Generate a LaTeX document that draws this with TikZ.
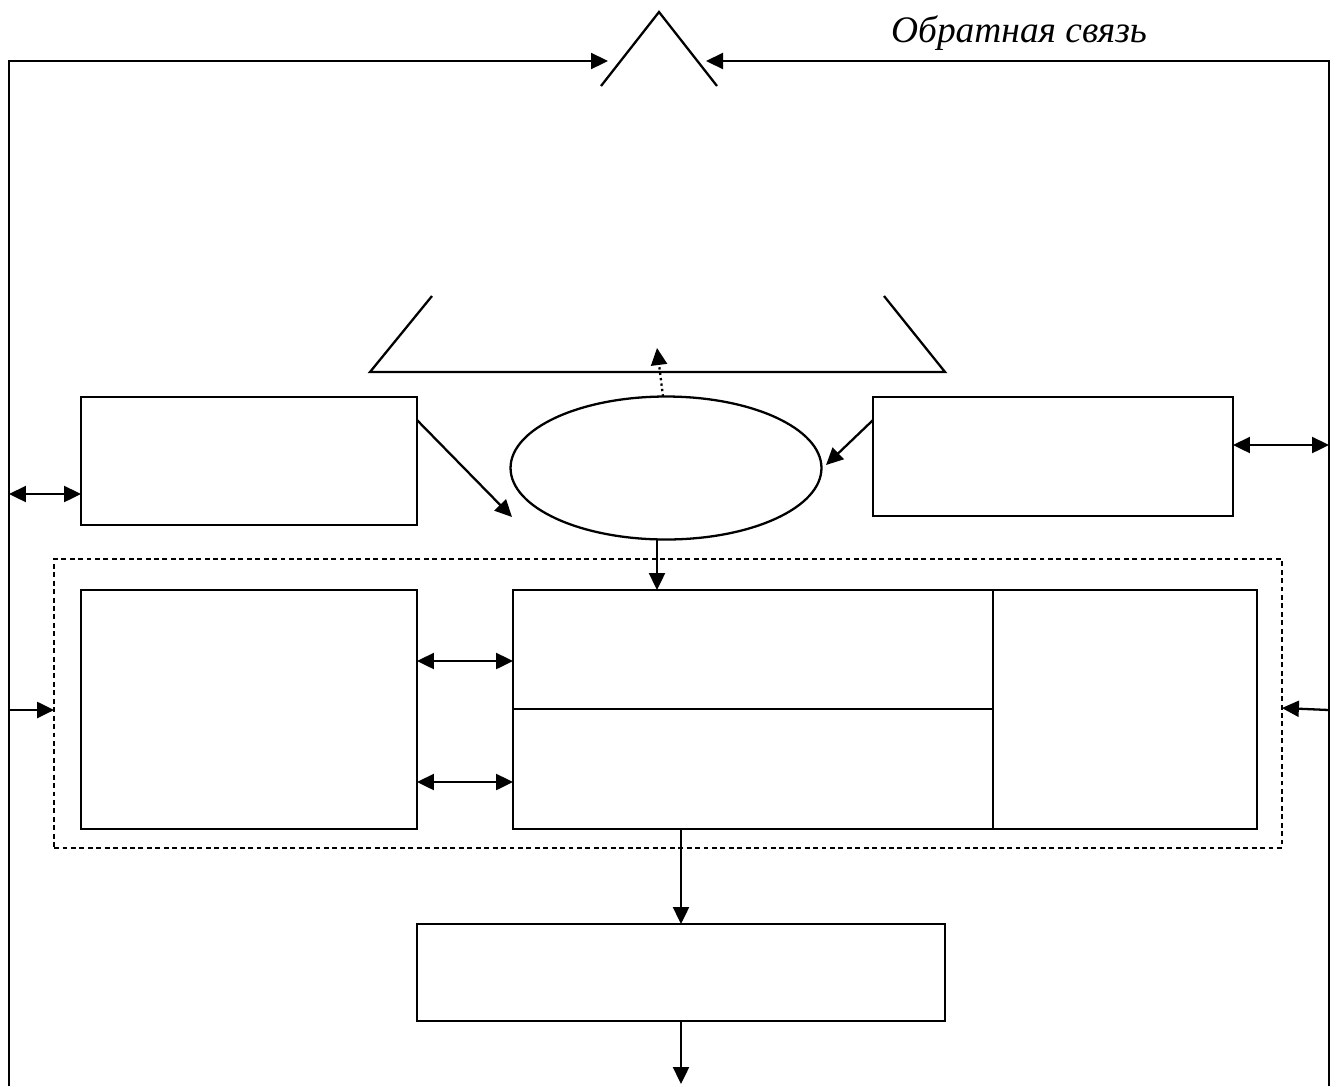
\documentclass[tikz,border=0pt]{standalone}
\usepackage{fontspec}
\setmainfont{Liberation Serif}
\usetikzlibrary{arrows.meta,shapes.geometric,calc}

\begin{document}
\begin{tikzpicture}[x=0.02cm,y=-0.02cm,line width=1.3pt,
    >={Triangle[length=0.34cm,width=0.32cm]},
    box/.style={draw,rectangle,inner sep=0pt,outer sep=0pt},
    oval/.style={draw,ellipse,inner sep=0pt,outer sep=0pt},
    grp/.style={draw,rectangle,inner sep=0pt,outer sep=0pt,line width=1pt,dash pattern=on 2.8pt off 2pt},
    dots/.style={dash pattern=on 1.3pt off 1.8pt}]
        \useasboundingbox (0,0) rectangle (1337,1086);

        % feedback loop
        \coordinate (tl) at (9,61);
        \coordinate (bl) at (9,1086);
        \coordinate (tr) at (1329,61);
        \coordinate (br) at (1329,1086);
        \coordinate (ltip) at (608,61);
        \coordinate (rtip) at (706,61);

        % big triangle, middle part left open
        \coordinate (apex) at (659,12);
        \draw (601,86) -- (apex) -- (717,86);
        \draw (432,296) -- (370,372) -- (945,372) -- (884,296);

        % nodes
        \node[box,minimum width=6.72cm,minimum height=2.56cm] (lbox) at (249,461) {};
        \node[box,minimum width=7.2cm,minimum height=2.38cm] (rbox) at (1053,456.5) {};
        \node[oval,minimum width=6.22cm,minimum height=2.86cm] (ell) at (666,468) {};

        \node[grp,minimum width=24.56cm,minimum height=5.78cm] (grp) at (668,703.5) {};
        \node[box,minimum width=6.72cm,minimum height=4.78cm] (inleft) at (249,709.5) {};
        \node[box,minimum width=9.6cm,minimum height=2.38cm] (ctop) at (753,649.5) {};
        \node[box,minimum width=9.6cm,minimum height=2.4cm] (cbot) at (753,769) {};
        \node[box,minimum width=5.28cm,minimum height=4.78cm] (inright) at (1125,709.5) {};

        \node[box,minimum width=10.56cm,minimum height=1.94cm] (outbox) at (681,972.5) {};

        \node (fb) at (1019,33) {\fontsize{21.3}{24}\selectfont\itshape Обратная связь};

        % free ends
        \coordinate (lend) at (512,517);
        \coordinate (rend) at (826,465);
        \coordinate (dtip) at (657,348);
        \coordinate (out) at (681,1084);
        \coordinate (la) at (9,494);
        \coordinate (ra) at (1329,445);

        % connectors
        \draw[->] (bl) -- (tl) -- (ltip);
        \draw[->] (br) -- (tr) -- (rtip);
        \draw[<->] (la) -- (la -| lbox.west);
        \draw[<->] (ra -| rbox.east) -- (ra);
        \draw[->] ($(lbox.north east)+(0,23)$) -- (lend);
        \draw[->] ($(rbox.north west)+(0,23)$) -- (rend);
        \draw[->,dots] ([xshift=-0.06cm]ell.north) -- (dtip);
        \draw[->] ([xshift=-0.18cm]ell.south) -- ([xshift=-0.18cm]ell.south |- ctop.north);
        \draw[->] ([yshift=-0.13cm]grp.west -| tl) -- ([yshift=-0.13cm]grp.west);
        \draw[->] ([yshift=-0.13cm]grp.east -| tr) -- ([yshift=-0.09cm]grp.east);
        \draw[<->] ([yshift=-0.23cm]ctop.west -| inleft.east) -- ([yshift=-0.23cm]ctop.west);
        \draw[<->] ([yshift=-0.26cm]cbot.west -| inleft.east) -- ([yshift=-0.26cm]cbot.west);
        \draw[->] (outbox.north |- cbot.south) -- (outbox.north);
        \draw[->] (outbox.south) -- (out);
      \end{tikzpicture}
\end{document}
